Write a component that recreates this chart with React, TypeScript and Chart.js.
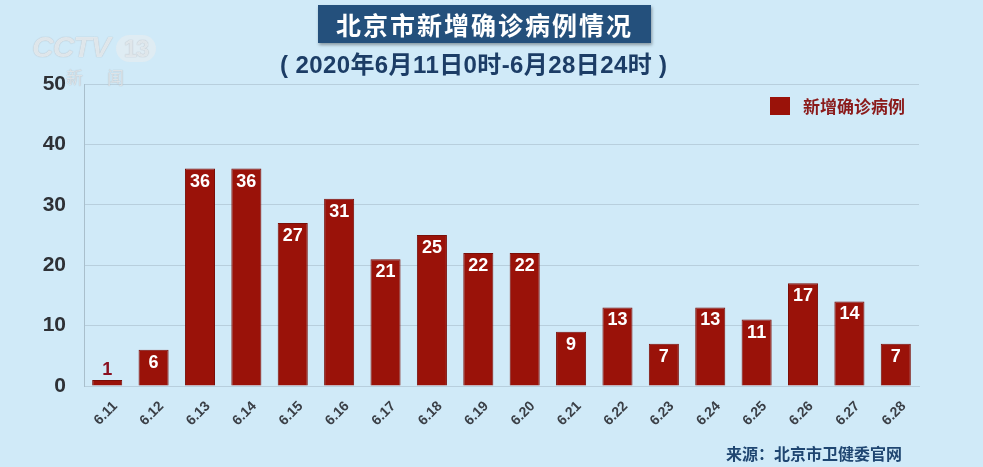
import React, { useEffect, useRef } from "react";
import { Chart, registerables } from "chart.js";

Chart.register(...registerables);

const categories = ["6.11","6.12","6.13","6.14","6.15","6.16","6.17","6.18","6.19","6.20","6.21","6.22","6.23","6.24","6.25","6.26","6.27","6.28"];
const newCases = [1, 6, 36, 36, 27, 31, 21, 25, 22, 22, 9, 13, 7, 13, 11, 17, 14, 7];
const seriesName = "新增确诊病例";
const titleText = "北京市新增确诊病例情况";
const subtitleText = "( 2020年6月11日0时-6月28日24时 )";
const sourceText = "来源：北京市卫健委官网";
const yTicks = [0, 10, 20, 30, 40, 50];

const BAR = "#9a1209";
const BG = "#d0eaf8";
const FONT = "'Liberation Sans', 'Noto Sans CJK SC', Arial, sans-serif";
const CJK = "'Noto Sans CJK SC', 'Liberation Sans', sans-serif";

const labelPlugin = {
  id: "barLabels",
  afterDatasetsDraw(chart: any) {
    const ctx = chart.ctx;
    const meta = chart.getDatasetMeta(0);
    ctx.save();
    ctx.font = `bold 18px ${FONT}`;
    ctx.textAlign = "center";
    meta.data.forEach((bar: any, i: number) => {
      const v = newCases[i];
      const h = bar.base - bar.y;
      if (h > 24) {
        ctx.fillStyle = "#ffffff";
        ctx.textBaseline = "top";
        ctx.fillText(String(v), bar.x, bar.y + 4);
      } else {
        ctx.fillStyle = "#8a1020";
        ctx.textBaseline = "bottom";
        ctx.fillText(String(v), bar.x, bar.y - 1);
      }
    });
    ctx.restore();
  },
};

export default function App() {
  const ref = useRef<HTMLCanvasElement>(null);
  useEffect(() => {
    document.body.style.margin = "0";
    const chart = new Chart(ref.current!, {
      type: "bar",
      data: {
        labels: categories,
        datasets: [
          {
            label: seriesName,
            data: newCases,
            backgroundColor: BAR,
            borderColor: "#7a0e08",
            borderWidth: 1,
            categoryPercentage: 0.8,
            barPercentage: 0.81,
          },
        ],
      },
      options: {
        animation: false,
        responsive: false,
        devicePixelRatio: 1,
        layout: { padding: { left: 0, top: 84, right: 64, bottom: 0 } },
        plugins: { legend: { display: false }, tooltip: { enabled: false }, title: { display: false } },
        scales: {
          x: {
            grid: { display: false, drawTicks: false },
            border: { display: true, color: "#b8cfdd", width: 1 },
            ticks: {
              minRotation: 45,
              maxRotation: 45,
              color: "#3a3f46",
              padding: 12,
              labelOffset: 8,
              font: { family: FONT, size: 14, weight: "bold" },
            },
            afterFit: (s: any) => { s.height = 81; },
          },
          y: {
            min: 0,
            max: 50,
            afterBuildTicks: (s: any) => { s.ticks = yTicks.map((v) => ({ value: v })); },
            grid: { color: "#b8cfdd", lineWidth: 1, drawTicks: false },
            border: { display: true, color: "#a9bfcc", width: 1 },
            ticks: {
              color: "#2e3136",
              padding: 18,
              font: { family: FONT, size: 21, weight: "bold" },
            },
            afterFit: (s: any) => { s.width = 84; },
          },
        },
      },
      plugins: [labelPlugin],
    } as any);
    return () => chart.destroy();
  }, []);

  return (
    <div style={{ position: "relative", width: 983, height: 467, background: BG, overflow: "hidden" }}>
      <canvas ref={ref} width={983} height={467} style={{ position: "absolute", left: 0, top: 0 }} />
      <div style={{ position: "absolute", left: 32, top: 30, fontFamily: FONT, fontWeight: "bold", fontSize: 30, fontStyle: "italic", color: "rgba(240,246,250,0.8)", textShadow: "0 0 1px #9aa4ac", letterSpacing: -1 }}>
        CCTV<span style={{ marginLeft: 6, padding: "0 8px", borderRadius: 14, background: "rgba(230,236,240,0.65)", fontSize: 24, fontStyle: "normal" }}>13</span>
      </div>
      <div style={{ position: "absolute", left: 66, top: 64, fontFamily: CJK, fontSize: 17, color: "rgba(235,240,244,0.8)", textShadow: "0 0 1px #9aa4ac", letterSpacing: 24 }}>新闻</div>
      <div style={{ position: "absolute", left: 318, top: 5, width: 333, height: 38, background: "#24507c", boxShadow: "1px 2px 3px rgba(0,0,0,0.35)", display: "flex", alignItems: "center", justifyContent: "center" }}>
        <span style={{ fontFamily: CJK, fontWeight: "bold", fontSize: 25, letterSpacing: 2, color: "#ffffff", whiteSpace: "nowrap" }}>{titleText}</span>
      </div>
      <div style={{ position: "absolute", left: 280, top: 49, fontFamily: FONT, fontWeight: "bold", fontSize: 24, letterSpacing: 0.4, color: "#1c3d66", whiteSpace: "pre", lineHeight: "32px" }}>{subtitleText}</div>
      <div style={{ position: "absolute", left: 770, top: 97, width: 20, height: 18, background: BAR }} />
      <div style={{ position: "absolute", left: 803, top: 94, fontFamily: CJK, fontWeight: "bold", fontSize: 17, color: "#8a1a1a", whiteSpace: "nowrap", lineHeight: "24px" }}>{seriesName}</div>
      <div style={{ position: "absolute", left: 726, top: 442, fontFamily: CJK, fontWeight: "bold", fontSize: 16, color: "#1f4671", whiteSpace: "nowrap", lineHeight: "22px" }}>{sourceText}</div>
    </div>
  );
}
